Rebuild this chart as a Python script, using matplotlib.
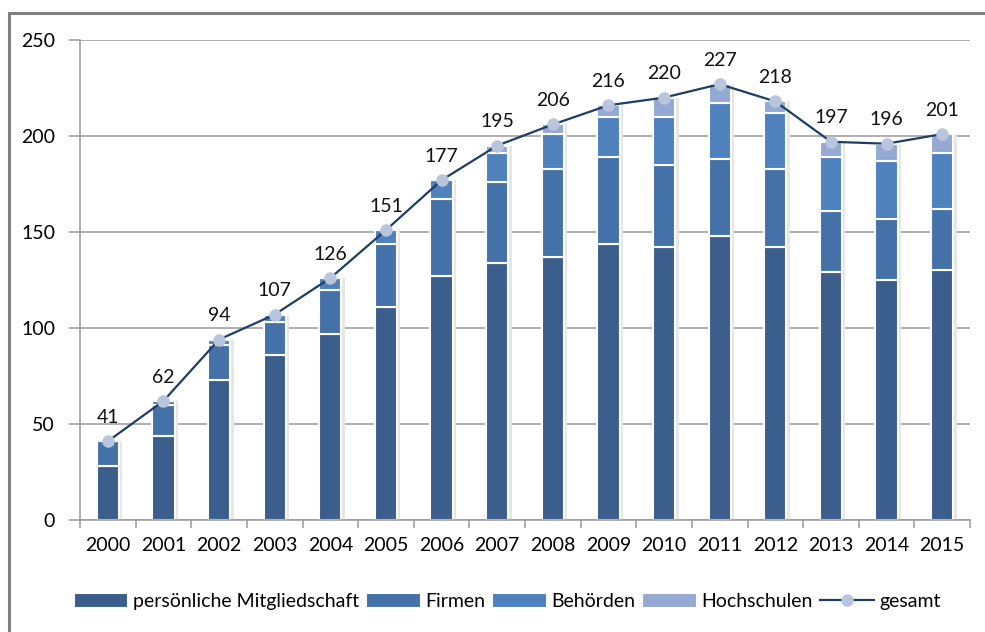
import numpy as np
import matplotlib
matplotlib.use('Agg')
import matplotlib.pyplot as plt
from matplotlib.patches import Rectangle

plt.rcParams['font.family'] = ['Lato', 'DejaVu Sans']

jahre = ['2000', '2001', '2002', '2003', '2004', '2005', '2006', '2007',
         '2008', '2009', '2010', '2011', '2012', '2013', '2014', '2015']
persoenlich = [28, 44, 73, 86, 97, 111, 127, 134, 137, 144, 142, 148, 142, 129, 125, 130]
firmen = [13, 16, 18, 17, 23, 33, 40, 42, 46, 45, 43, 40, 41, 32, 32, 32]
behoerden = [0, 2, 3, 4, 6, 7, 10, 15, 18, 21, 25, 29, 29, 28, 30, 29]
hochschulen = [0, 0, 0, 0, 0, 0, 0, 4, 5, 6, 10, 10, 6, 8, 9, 10]
gesamt = [41, 62, 94, 107, 126, 151, 177, 195, 206, 216, 220, 227, 218, 197, 196, 201]

farben = ['#3B5E8C', '#4472A8', '#4F81BD', '#95AAD2']
namen = ['persönliche Mitgliedschaft', 'Firmen', 'Behörden', 'Hochschulen']

fig = plt.figure(figsize=(9.85, 6.32), dpi=100)
# grauer Rahmen
fig.patches.append(Rectangle((9 / 985, -0.1), 1.1, (632 - 13) / 632 + 0.1,
                             transform=fig.transFigure, fill=False,
                             edgecolor='#808080', linewidth=2.2))
ax = fig.add_axes([80 / 985, (632 - 520) / 632, 890 / 985, 480 / 632])

x = np.arange(len(jahre))
unten = np.zeros(len(jahre))
handles = []
for werte, farbe, name in zip([persoenlich, firmen, behoerden, hochschulen], farben, namen):
    werte = np.array(werte)
    # leichter Schatten
    ax.bar(x + 0.03, werte, 0.46, bottom=unten, color='#E6E6E6', zorder=1)
    h = ax.bar(x, werte, 0.40, bottom=unten, color=farbe, edgecolor='white',
               linewidth=1.5, label=name, zorder=2)
    handles.append(h)
    unten += werte

linie, = ax.plot(x, gesamt, color='#1F3D64', linewidth=1.6, marker='o', markersize=8,
                 markerfacecolor='#B8C5DD', markeredgecolor='#B8C5DD', label='gesamt', zorder=4)
handles.append(linie)
for xi, g in zip(x, gesamt):
    ax.annotate(str(g), (xi, g), xytext=(0, 11), textcoords='offset points',
                ha='center', va='bottom', fontsize=14, color='#111111')

ax.set_xlim(-0.5, len(jahre) - 0.5)
ax.set_ylim(0, 250)
ax.set_yticks(range(0, 251, 50))
ax.yaxis.grid(True, color='#9A9A9A', linewidth=1.1)
ax.set_axisbelow(True)
ax.set_xticks(np.arange(-0.5, len(jahre), 1), minor=False)
ax.set_xticklabels([])
ax.set_xticks(x, minor=True)
ax.set_xticklabels(jahre, minor=True)
ax.tick_params(axis='x', which='major', length=6, color='#9A9A9A', width=1.1)
ax.tick_params(axis='x', which='minor', length=0, labelsize=14, pad=12)
ax.tick_params(axis='y', length=8, color='#9A9A9A', width=1.1, labelsize=14, pad=10)
for s in ['top', 'right']:
    ax.spines[s].set_visible(False)
for s in ['left', 'bottom']:
    ax.spines[s].set_color('#9A9A9A')
    ax.spines[s].set_linewidth(1.1)

ax.legend(handles=handles, loc='upper center', bbox_to_anchor=(0.48, -0.115), ncol=5,
          frameon=False, fontsize=14, handlelength=2.8, handleheight=0.8,
          handletextpad=0.25, columnspacing=0.35)

fig.savefig('out.png', dpi=100)
